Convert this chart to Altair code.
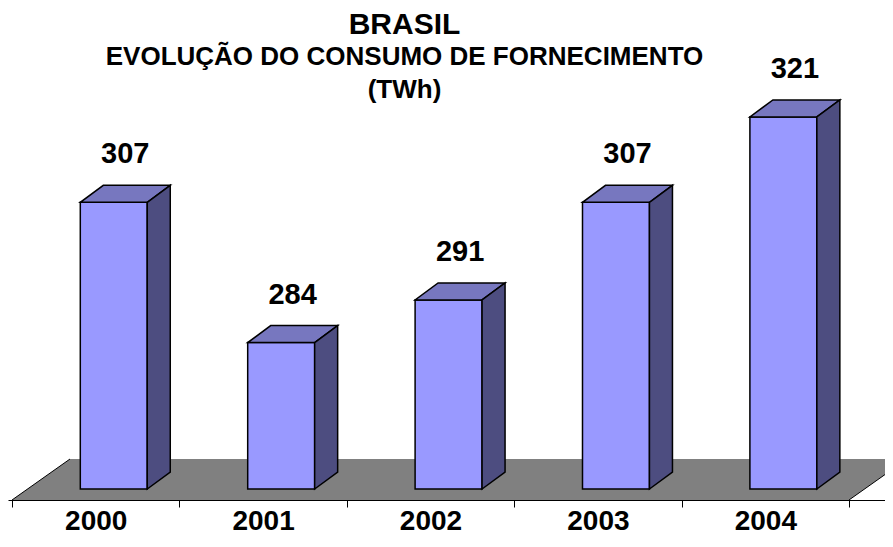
import json
import altair as alt
import pandas as pd

# ---------------- data ----------------
YEARS = ["2000", "2001", "2002", "2003", "2004"]
VALUES = [307, 284, 291, 307, 321]
TITLE = "BRASIL"
SUBTITLE = ["EVOLUÇÃO DO CONSUMO DE FORNECIMENTO", "(TWh)"]

# ---------------- layout / style constants ----------------
FONT = "Liberation Sans"
W = 877
PAD_TOP, PLOT_H, PAD_BOTTOM = 112, 380, 35
PX = 167.4          # pixels per category
VY = 6.1            # pixels per TWh
BASE = 260          # value at the foot of the bars
X_MIN = -0.5 - 4 / PX
X_MAX = X_MIN + W / PX
Y_MIN = BASE - 11 / VY          # floor front edge = bottom of plot
Y_MAX = Y_MIN + PLOT_H / VY
FLOOR_BACK = BASE + 30 / VY
FLOOR_DX = 58 / PX
BAR_L, BAR_W = -0.092, 0.40
DEPTH_X, DEPTH_Y = 23 / PX, 17 / VY

FRONT = "#9999FF"
TOP = "#7777BF"
SIDE = "#4D4D80"
FLOOR = "#808080"

n = len(YEARS)

# ---------------- derived tables ----------------
fronts = pd.DataFrame({
    "year": YEARS,
    "px": [i + BAR_L for i in range(n)],
    "px2": [i + BAR_L + BAR_W for i in range(n)],
    "py": [BASE] * n,
    "py2": VALUES,
})

top_rows, side_rows = [], []
for i, (yr, v) in enumerate(zip(YEARS, VALUES)):
    xl = i + BAR_L
    xr = xl + BAR_W
    top_rows += [
        {"bar": yr, "px": xl, "lo": v, "hi": v},
        {"bar": yr, "px": xl + DEPTH_X, "lo": v, "hi": v + DEPTH_Y},
        {"bar": yr, "px": xr, "lo": v, "hi": v + DEPTH_Y},
        {"bar": yr, "px": xr + DEPTH_X, "lo": v + DEPTH_Y, "hi": v + DEPTH_Y},
    ]
    side_rows += [
        {"bar": yr, "px": xr, "lo": BASE, "hi": v},
        {"bar": yr, "px": xr + DEPTH_X, "lo": BASE + DEPTH_Y, "hi": v + DEPTH_Y},
    ]
tops = pd.DataFrame(top_rows)
sides = pd.DataFrame(side_rows)

floor = pd.DataFrame({
    "px": [-0.5, -0.5 + FLOOR_DX, n - 0.5, n - 0.5 + FLOOR_DX],
    "lo": [Y_MIN, Y_MIN, Y_MIN, FLOOR_BACK],
    "hi": [Y_MIN, FLOOR_BACK, FLOOR_BACK, FLOOR_BACK],
})
floor_edges = pd.DataFrame({
    "edge": ["l", "l", "r", "r"],
    "px": [-0.5, -0.5 + FLOOR_DX, n - 0.5, n - 0.5 + FLOOR_DX],
    "py": [Y_MIN, FLOOR_BACK, Y_MIN, FLOOR_BACK],
})

labels = pd.DataFrame({
    "year": YEARS,
    "px": [i + BAR_L + BAR_W / 2 + DEPTH_X / 2 for i in range(n)],
    "v": VALUES,
    "txt": [str(v) for v in VALUES],
})

# ---------------- scales / axes ----------------
xs = alt.Scale(domain=[X_MIN, X_MAX], nice=False, zero=False)
ys = alt.Scale(domain=[Y_MIN, Y_MAX], nice=False, zero=False)
label_expr = ("datum.value < %f ? %s[round(datum.value + 0.5)] : ''"
              % (n - 0.6, json.dumps(YEARS)))
xaxis = alt.Axis(
    values=[i - 0.5 for i in range(n + 1)],
    title=None, grid=False,
    domainColor="black", domainWidth=1,
    tickColor="black", tickWidth=1, tickSize=7,
    labelExpr=label_expr, labelOffset=PX / 2,
    labelFont=FONT, labelFontSize=28, labelFontWeight="bold",
    labelColor="black", labelPadding=22, labelBaseline="alphabetic",
    labelFlush=False, labelOverlap=False, labelBound=False,
)


def X(field):
    return alt.X(field, type="quantitative", scale=xs, axis=xaxis)


def Y(field):
    return alt.Y(field, type="quantitative", scale=ys, axis=None)


floor_layer = alt.Chart(floor).mark_area(
    fill=FLOOR, opacity=1, orient="vertical"
).encode(x=X("px"), y=Y("lo"), y2=alt.Y2("hi"))
edge_layer = alt.Chart(floor_edges).mark_line(color="black", strokeWidth=1).encode(
    x=X("px"), y=Y("py"), detail="edge:N"
)
front_layer = alt.Chart(fronts).mark_rect(
    fill=FRONT, stroke="black", strokeWidth=1.5
).encode(x=X("px"), x2=alt.X2("px2"), y=Y("py"), y2=alt.Y2("py2"))
top_layer = alt.Chart(tops).mark_area(
    fill=TOP, stroke="black", strokeWidth=1.5, opacity=1, orient="vertical"
).encode(x=X("px"), y=Y("lo"), y2=alt.Y2("hi"), detail="bar:N")
side_layer = alt.Chart(sides).mark_area(
    fill=SIDE, stroke="black", strokeWidth=1.5, opacity=1, orient="vertical"
).encode(x=X("px"), y=Y("lo"), y2=alt.Y2("hi"), detail="bar:N")
text_layer = alt.Chart(labels).mark_text(
    font=FONT, fontSize=29, fontWeight="bold", color="black",
    baseline="alphabetic", align="center", dy=-39
).encode(x=X("px"), y=Y("v"), text="txt:N")

chart = alt.layer(
    floor_layer, edge_layer, front_layer, top_layer, side_layer, text_layer
).properties(
    width=W,
    height=PLOT_H,
    padding={"left": 0, "right": 0, "top": PAD_TOP, "bottom": PAD_BOTTOM},
    autosize=alt.AutoSizeParams(type="none"),
    background="white",
    title=alt.TitleParams(
        text=TITLE, subtitle=SUBTITLE,
        font=FONT, fontSize=30, fontWeight="bold", color="black",
        subtitleFont=FONT, subtitleFontSize=26, subtitleFontWeight="bold",
        subtitleColor="black", subtitleLineHeight=33, subtitlePadding=4,
        anchor="middle", dx=-42, offset=-48,
    ),
).configure_view(stroke=None)

chart.save("out.html", embed_options={"renderer": "svg", "actions": False})
